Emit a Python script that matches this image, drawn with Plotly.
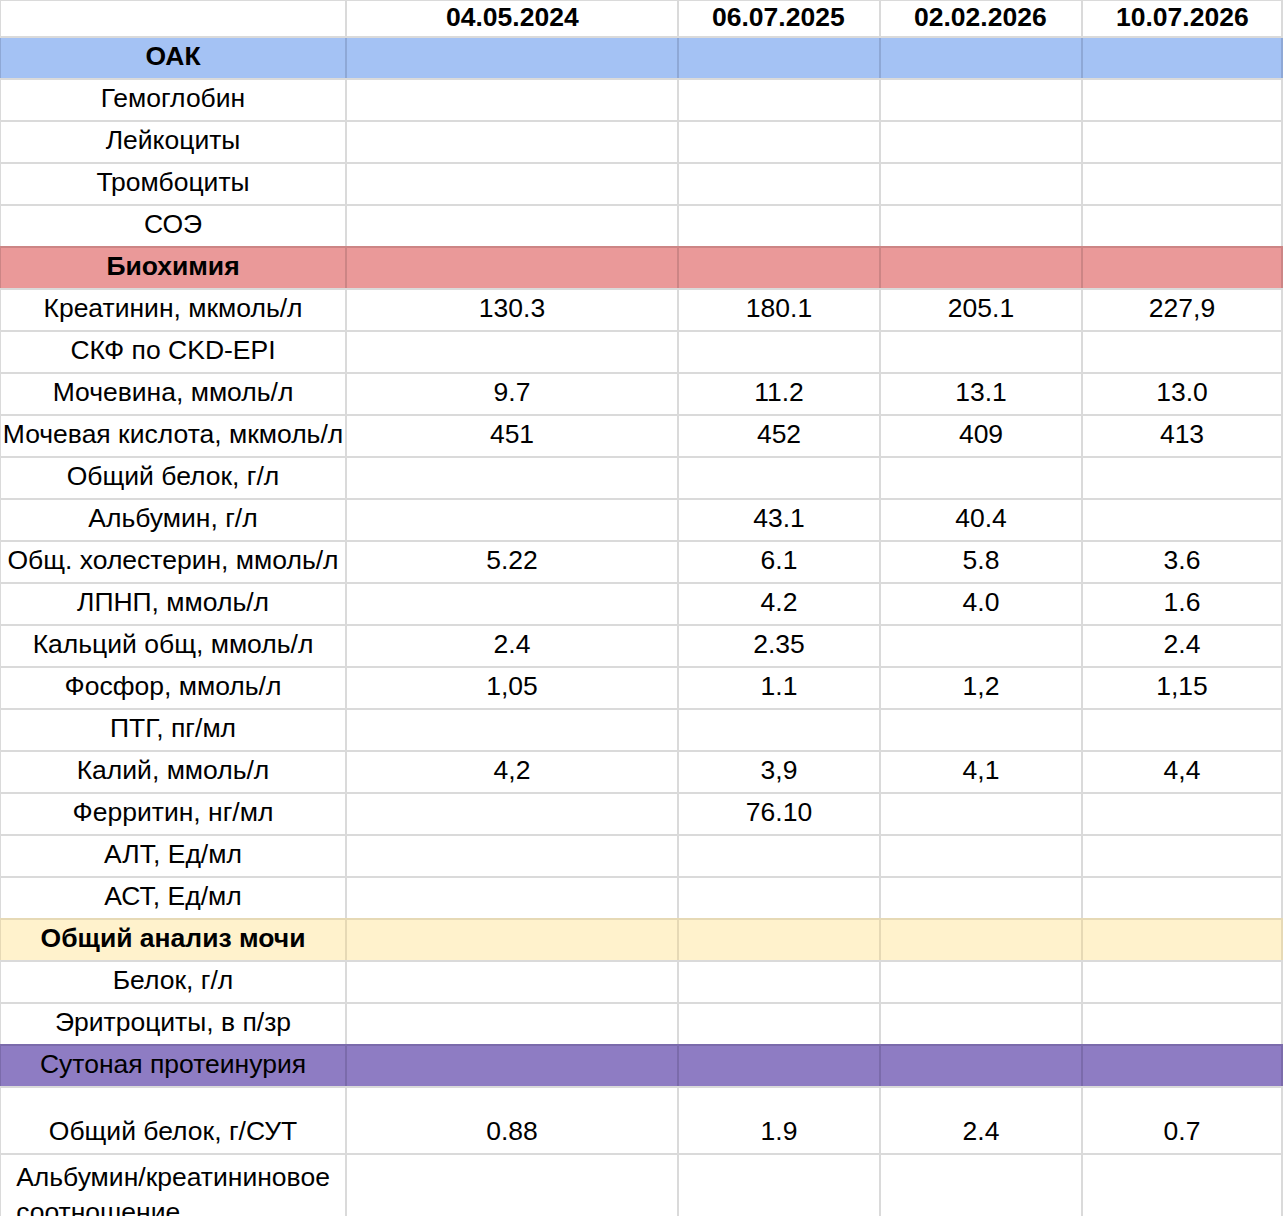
import plotly.graph_objects as go

# column headers (dates of the analyses)
dates = ["04.05.2024", "06.07.2025", "02.02.2026", "10.07.2026"]

# row labels, first column
params = [
    "ОАК", "Гемоглобин", "Лейкоциты", "Тромбоциты", "СОЭ",
    "Биохимия", "Креатинин, мкмоль/л", "СКФ по CKD-EPI", "Мочевина, ммоль/л",
    "Мочевая кислота, мкмоль/л", "Общий белок, г/л", "Альбумин, г/л",
    "Общ. холестерин, ммоль/л", "ЛПНП, ммоль/л", "Кальций общ, ммоль/л",
    "Фосфор, ммоль/л", "ПТГ, пг/мл", "Калий, ммоль/л", "Ферритин, нг/мл",
    "АЛТ, Ед/мл", "АСТ, Ед/мл",
    "Общий анализ мочи", "Белок, г/л", "Эритроциты, в п/зр",
    "Сутоная протеинурия", "Общий белок, г/СУТ",
    "Альбумин/креатининовое<br>соотношение",
]

# values as written in the sheet, one list per date ("" = empty cell)
v_2024_05_04 = ["", "", "", "", "", "", "130.3", "", "9.7", "451", "", "",
                "5.22", "", "2.4", "1,05", "", "4,2", "", "", "",
                "", "", "", "", "0.88", ""]
v_2025_07_06 = ["", "", "", "", "", "", "180.1", "", "11.2", "452", "", "43.1",
                "6.1", "4.2", "2.35", "1.1", "", "3,9", "76.10", "", "",
                "", "", "", "", "1.9", ""]
v_2026_02_02 = ["", "", "", "", "", "", "205.1", "", "13.1", "409", "", "40.4",
                "5.8", "4.0", "", "1,2", "", "4,1", "", "", "",
                "", "", "", "", "2.4", ""]
v_2026_07_10 = ["", "", "", "", "", "", "227,9", "", "13.0", "413", "", "",
                "3.6", "1.6", "2.4", "1,15", "", "4,4", "", "", "",
                "", "", "", "", "0.7", ""]

# section rows: fill, border, bold
sections = {
    "ОАК": ("#a4c2f4", "#8ea8d6", True),
    "Биохимия": ("#ea9999", "#cc8585", True),
    "Общий анализ мочи": ("#fff2cc", "#e6d9b5", True),
    "Сутоная протеинурия": ("#8e7cc3", "#7b6bab", False),
}

GRID = "#dadada"
FONT = "Liberation Sans, Arial, sans-serif"
SIZE = 26.5
COL_W = [346, 332, 202, 202, 200]
TALL_ROW = params.index("Общий белок, г/СУТ")
NONE = "rgba(0,0,0,0)"


def nb(text):
    # non-breaking spaces: the sheet does not wrap, it clips
    return text.replace(" ", "\u00a0")


labels, bold_labels, fills, lines = [], [], [], []
for p in params:
    fill, line, bold = sections.get(p, ("white", GRID, False))
    labels.append("" if bold else nb(p))
    bold_labels.append(nb(p) if bold else "")
    fills.append(fill)
    lines.append(line)

columns = [labels] + [list(v) for v in (v_2024_05_04, v_2025_07_06, v_2026_02_02, v_2026_07_10)]
# taller row: a small blank line above the text, like in the sheet
for col in columns:
    col[TALL_ROW] = "<span style='font-size:12px'>\u00a0</span><br>" + col[TALL_ROW]

edges = [sum(COL_W[:i]) for i in range(len(COL_W) + 1)]
domain = dict(x=[0, edges[-1] / 1285], y=[0, 1])

fig = go.Figure()

# the sheet itself
fig.add_trace(go.Table(
    domain=domain,
    columnwidth=COL_W,
    header=dict(values=[""] * 5, fill_color="white",
                line=dict(color=GRID, width=2), height=37),
    cells=dict(
        values=columns,
        fill_color=[fills] * 5,
        line=dict(color=[lines] * 5, width=2),
        font=dict(family=FONT, size=SIZE, color="black"),
        align="center",
        height=42,
    ),
))

# bold section titles, same grid, laid over the sheet
n_top = TALL_ROW
fig.add_trace(go.Table(
    domain=domain,
    columnwidth=COL_W,
    header=dict(values=[""] * 5, fill_color=NONE,
                line=dict(color=NONE, width=0), height=37),
    cells=dict(
        values=[bold_labels[:n_top]] + [[""] * n_top] * 4,
        fill_color=NONE,
        line=dict(color=NONE, width=0),
        font=dict(family=FONT, size=SIZE, color="black", weight=700),
        align="center",
        height=42,
    ),
))

# dates written over the (empty) header cells
for i, d in enumerate(dates):
    fig.add_annotation(
        x=(edges[i + 1] + edges[i + 2]) / 2 / 1285, y=1 - 17 / 1216,
        xref="paper", yref="paper", xanchor="center", yanchor="middle",
        text=f"<b>{d}</b>", showarrow=False,
        font=dict(family=FONT, size=SIZE, color="black"),
    )

fig.update_layout(
    width=1285,
    height=1216,
    margin=dict(l=0, r=0, t=0, b=0),
    paper_bgcolor="white",
)

fig.write_html(
    "out.html",
    config={"displayModeBar": False},
    post_script="document.body.style.margin = '0px';",
)
